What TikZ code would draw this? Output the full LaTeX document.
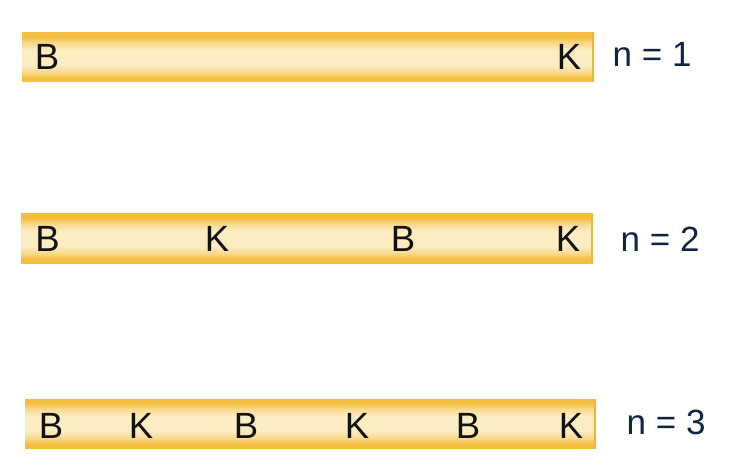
\documentclass[tikz,border=0pt]{standalone}
\usepackage{fontspec}
\setmainfont{Liberation Sans}
\definecolor{baredge}{HTML}{F4BE3E}
\definecolor{barmid}{HTML}{FCECC2}
\definecolor{barlite}{HTML}{F9D98A}
\definecolor{barside}{HTML}{F2B43A}
\definecolor{labnavy}{HTML}{0E2442}
\definecolor{letterblk}{HTML}{121212}
\pgfdeclareverticalshading{barglow}{100bp}{
  color(0bp)=(baredge);
  color(25bp)=(baredge);
  color(29bp)=(baredge);
  color(35bp)=(barlite);
  color(42bp)=(barmid);
  color(58bp)=(barmid);
  color(65bp)=(barlite);
  color(71bp)=(baredge);
  color(100bp)=(baredge)}
\tikzset{
  x=1pt,y=1pt,
  letter/.style={anchor=base,inner sep=0pt,text=letterblk,font=\fontsize{36.5}{40}\selectfont},
  nlabel/.style={anchor=base west,inner sep=0pt,text=labnavy,font=\fontsize{35}{40}\selectfont},
  barshade/.style={shading=barglow},
  barside/.style={draw=barside,line width=2pt}
}
\begin{document}
\begin{tikzpicture}
\useasboundingbox (0,0) rectangle (750,472);
% bars
\shade[barshade] (22,390) rectangle (594,439);
\draw[barside] (593,390) -- (593,439);
\shade[barshade] (21,209) rectangle (593,258);
\draw[barside] (592,209) -- (592,258);
\shade[barshade] (25,24) rectangle (596,73);
\draw[barside] (595,24) -- (595,73);
% bar 1
\node[letter] (b11) at (47,402) {B};
\node[letter] (k11) at (569,402) {K};
\node[nlabel] (n1) at (612.5,405) {n = 1};
% bar 2
\node[letter] (b21) at (47.5,220) {B};
\node[letter] (k21) at (217,220) {K};
\node[letter] (b22) at (403,220) {B};
\node[letter] (k22) at (568,220) {K};
\node[nlabel] (n2) at (620.5,220) {n = 2};
% bar 3
\node[letter] (b31) at (51,34) {B};
\node[letter] (k31) at (141,34) {K};
\node[letter] (b32) at (246,34) {B};
\node[letter] (k32) at (357,34) {K};
\node[letter] (b33) at (468,34) {B};
\node[letter] (k33) at (571,34) {K};
\node[nlabel] (n3) at (626.5,38) {n = 3};
\end{tikzpicture}
\end{document}
